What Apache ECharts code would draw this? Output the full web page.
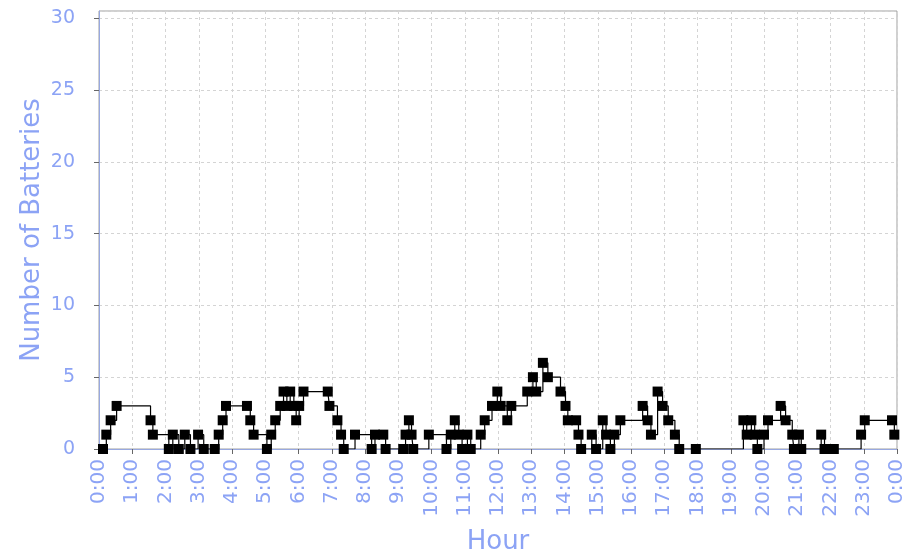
<!DOCTYPE html>
<html>
<head>
<meta charset="utf-8">
<script src="https://cdn.jsdelivr.net/npm/echarts@6/dist/echarts.min.js"></script>
<style>
  html, body { margin: 0; padding: 0; background: #fff; }
  #chart { width: 913px; height: 556px; }
</style>
</head>
<body>
<div id="chart"></div>
<script>
// 时间点（小时）
const hours = [
  0.12, 0.22, 0.35, 0.53, 1.55, 1.62, 2.1, 2.22, 2.4, 2.58, 2.75, 2.98, 3.15, 3.48,
  3.6, 3.72, 3.82, 4.45, 4.55, 4.65, 5.05, 5.18, 5.3, 5.45, 5.55, 5.65, 5.75, 5.86,
  5.93, 6.02, 6.15, 6.88, 6.93, 7.17, 7.28, 7.36, 7.7, 8.2, 8.3, 8.55, 8.62, 9.15,
  9.22, 9.32, 9.4, 9.45, 9.92, 10.45, 10.58, 10.7, 10.82, 10.92, 11.08, 11.18, 11.48,
  11.6, 11.82, 11.98, 12.08, 12.28, 12.4, 12.88, 13.05, 13.15, 13.35, 13.5, 13.88,
  14.03, 14.1, 14.35, 14.42, 14.5, 14.82, 14.95, 15.15, 15.25, 15.38, 15.5, 15.68,
  16.35, 16.5, 16.6, 16.8, 16.95, 17.12, 17.32, 17.45, 17.95, 19.38, 19.48, 19.62,
  19.72, 19.8, 20.0, 20.12, 20.5, 20.65, 20.85, 20.9, 21.05, 21.12, 21.72, 21.82,
  22.1, 22.92, 23.03, 23.85, 23.92
];
// 电池数量
const batteries = [
  0, 1, 2, 3, 2, 1, 0, 1, 0, 1, 0, 1, 0, 0,
  1, 2, 3, 3, 2, 1, 0, 1, 2, 3, 4, 3, 4, 3,
  2, 3, 4, 4, 3, 2, 1, 0, 1, 0, 1, 1, 0, 0,
  1, 2, 1, 0, 1, 0, 1, 2, 1, 0, 1, 0, 1,
  2, 3, 4, 3, 2, 3, 4, 5, 4, 6, 5, 4,
  3, 2, 2, 1, 0, 1, 0, 2, 1, 0, 1, 2,
  3, 2, 1, 4, 3, 2, 1, 0, 0, 2, 1, 2,
  1, 0, 1, 2, 3, 2, 1, 0, 1, 0, 1, 0,
  0, 1, 2, 2, 1
];
const yTicks = [0, 5, 10, 15, 20, 25, 30];

const labelColor = '#8ca3f5';
const axisColor = '#98a8e0';

const chart = echarts.init(document.getElementById('chart'), null, { renderer: 'canvas' });

const option = {
  animation: false,
  backgroundColor: '#ffffff',
  grid: {
    left: 99, right: 16, top: 11, bottom: 107,
    show: true, borderColor: '#a0a0a0', borderWidth: 1, backgroundColor: '#ffffff',
    outerBoundsMode: 'none'
  },
  xAxis: {
    type: 'value',
    min: 0, max: 24, interval: 1,
    name: 'Hour',
    nameLocation: 'middle',
    nameGap: 80,
    nameMoveOverlap: false,
    nameTextStyle: { color: labelColor, fontFamily: 'DejaVu Sans', fontSize: 26 },
    axisLine: { show: true, lineStyle: { color: axisColor, width: 1 } },
    axisTick: { show: true, length: 5, lineStyle: { color: '#666' } },
    axisLabel: {
      rotate: 90, margin: 10,
      color: labelColor, fontFamily: 'DejaVu Sans', fontSize: 20,
      formatter: v => (v % 24) + ':00'
    },
    splitLine: { show: true, lineStyle: { color: '#d4d4d4', type: [3, 3] } }
  },
  yAxis: {
    type: 'value',
    min: 0, max: 30.5, interval: 5,
    name: 'Number of Batteries',
    nameLocation: 'middle',
    nameGap: 54,
    nameMoveOverlap: false,
    nameTextStyle: { color: labelColor, fontFamily: 'DejaVu Sans', fontSize: 26 },
    axisLine: { show: true, lineStyle: { color: axisColor, width: 1 } },
    axisTick: { show: true, length: 5, lineStyle: { color: '#666' } },
    axisLabel: {
      margin: 24, showMaxLabel: false,
      color: labelColor, fontFamily: 'DejaVu Sans', fontSize: 19,
      formatter: v => (yTicks.indexOf(v) >= 0 ? String(v) : '')
    },
    splitLine: { show: true, lineStyle: { color: '#d4d4d4', type: [3, 3] } }
  },
  series: [
    {
      type: 'line',
      step: 'end',
      data: hours.map((h, i) => [h, batteries[i]]),
      symbol: 'rect',
      symbolSize: 10,
      showAllSymbol: true,
      itemStyle: { color: '#000000' },
      lineStyle: { color: '#000000', width: 1.2 }
    }
  ]
};
chart.setOption(option);
</script>
</body>
</html>
